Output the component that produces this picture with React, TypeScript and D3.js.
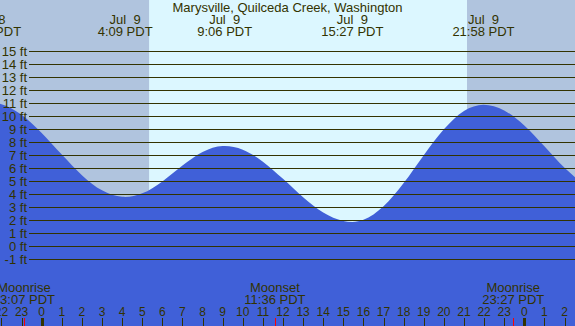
import React from "react";
import * as d3 from "d3";

const W = 575;
const H = 326;

const title = "Marysville, Quilceda Creek, Washington";

// tide heights (ft), hours relative to Jul 9 00:00
const tideHours = [-3, -2.6, -2, -1, 0, 1, 2, 3, 4, 4.15, 5, 6, 7, 8, 9, 9.1, 10, 11, 12, 13, 14, 15, 15.45, 16, 17, 18, 19, 20, 21, 21.97, 23, 24, 25, 26, 27];
const tideFeet = [10.99, 11.05, 10.91, 10.09, 8.69, 7.03, 5.45, 4.28, 3.78, 3.77, 4.05, 4.97, 6.19, 7.23, 7.69, 7.69, 7.41, 6.49, 5.17, 3.75, 2.57, 1.92, 1.85, 2.01, 3.05, 4.85, 6.99, 8.98, 10.39, 10.87, 10.43, 9.27, 7.67, 6.01, 4.69];

// extreme labels on top
const extremeHours = [-2.57, 4.15, 9.1, 15.45, 21.97];
const extremeDates = ["Jul  8", "Jul  9", "Jul  9", "Jul  9", "Jul  9"];
const extremeTimes = ["21:26 PDT", "4:09 PDT", "9:06 PDT", "15:27 PDT", "21:58 PDT"];

// moon events
const moonHours = [-0.883, 11.6, 23.45];
const moonNames = ["Moonrise", "Moonset", "Moonrise"];
const moonTimes = ["23:07 PDT", "11:36 PDT", "23:27 PDT"];

// sun
const sunriseHour = 5.34;
const sunsetHour = 21.15;

// axis
const yTicks = [-1, 0, 1, 2, 3, 4, 5, 6, 7, 8, 9, 10, 11, 12, 13, 14, 15];
const hourTicks = [-2, -1, 0, 1, 2, 3, 4, 5, 6, 7, 8, 9, 10, 11, 12, 13, 14, 15, 16, 17, 18, 19, 20, 21, 22, 23, 24, 25, 26];

const NIGHT = "#b0c4de";
const DAY = "#dcf7ff";
const WATER = "#4060d8";
const INK = "#333300";
const FONT = "'Liberation Sans', Arial, sans-serif";

export default function App() {
  const x = d3.scaleLinear().domain([0, 24]).range([41.7, 524.3]);
  const y = d3.scaleLinear().domain([0, 15]).range([246, 51]);

  const pts = tideHours.map((h, i) => [h, tideFeet[i]] as [number, number]);
  const area = d3
    .area<[number, number]>()
    .x((d) => x(d[0]))
    .y0(H)
    .y1((d) => y(d[1]))
    .curve(d3.curveMonotoneX);

  const hourLabel = (h: number) => String(((h % 24) + 24) % 24);

  return (
    <svg
      width={W}
      height={H}
      style={{ position: "absolute", left: 0, top: 0, display: "block" }}
      fontFamily={FONT}
      fontSize={13}
    >
      <rect x={0} y={0} width={W} height={H} fill={NIGHT} />
      <rect x={x(sunriseHour)} y={0} width={x(sunsetHour) - x(sunriseHour)} height={H} fill={DAY} />
      <path d={area(pts) || ""} fill={WATER} />
      {yTicks.map((t) => (
        <g key={t}>
          <line x1={29} x2={W} y1={y(t) + 0.5} y2={y(t) + 0.5} stroke={INK} strokeWidth={1} />
          <text x={27} y={y(t) + 4.5} textAnchor="end" fill={INK}>
            {t} ft
          </text>
        </g>
      ))}
      <text x={W / 2} y={12} textAnchor="middle" fill={INK}>
        {title}
      </text>
      {extremeHours.map((h, i) => (
        <g key={i}>
          <text x={x(h)} y={24} textAnchor="middle" fill={INK} style={{ whiteSpace: "pre" }}>
            {extremeDates[i]}
          </text>
          <text x={x(h)} y={36} textAnchor="middle" fill={INK}>
            {extremeTimes[i]}
          </text>
        </g>
      ))}
      {moonHours.map((h, i) => (
        <g key={i}>
          <text x={x(h)} y={292} textAnchor="middle" fill={INK}>
            {moonNames[i]}
          </text>
          <text x={x(h)} y={304} textAnchor="middle" fill={INK}>
            {moonTimes[i]}
          </text>
          <line x1={Math.round(x(h)) + 0.5} x2={Math.round(x(h)) + 0.5} y1={318} y2={H} stroke="red" strokeWidth={1} />
        </g>
      ))}
      {hourTicks.map((h) => (
        <g key={h}>
          <text x={x(h)} y={316} textAnchor="middle" fill={INK} fontSize={12}>
            {hourLabel(h)}
          </text>
          <line
            x1={Math.round(x(h)) + 0.5}
            x2={Math.round(x(h)) + 0.5}
            y1={318}
            y2={H}
            stroke={INK}
            strokeWidth={h % 24 === 0 ? 3 : 1}
          />
        </g>
      ))}
    </svg>
  );
}
